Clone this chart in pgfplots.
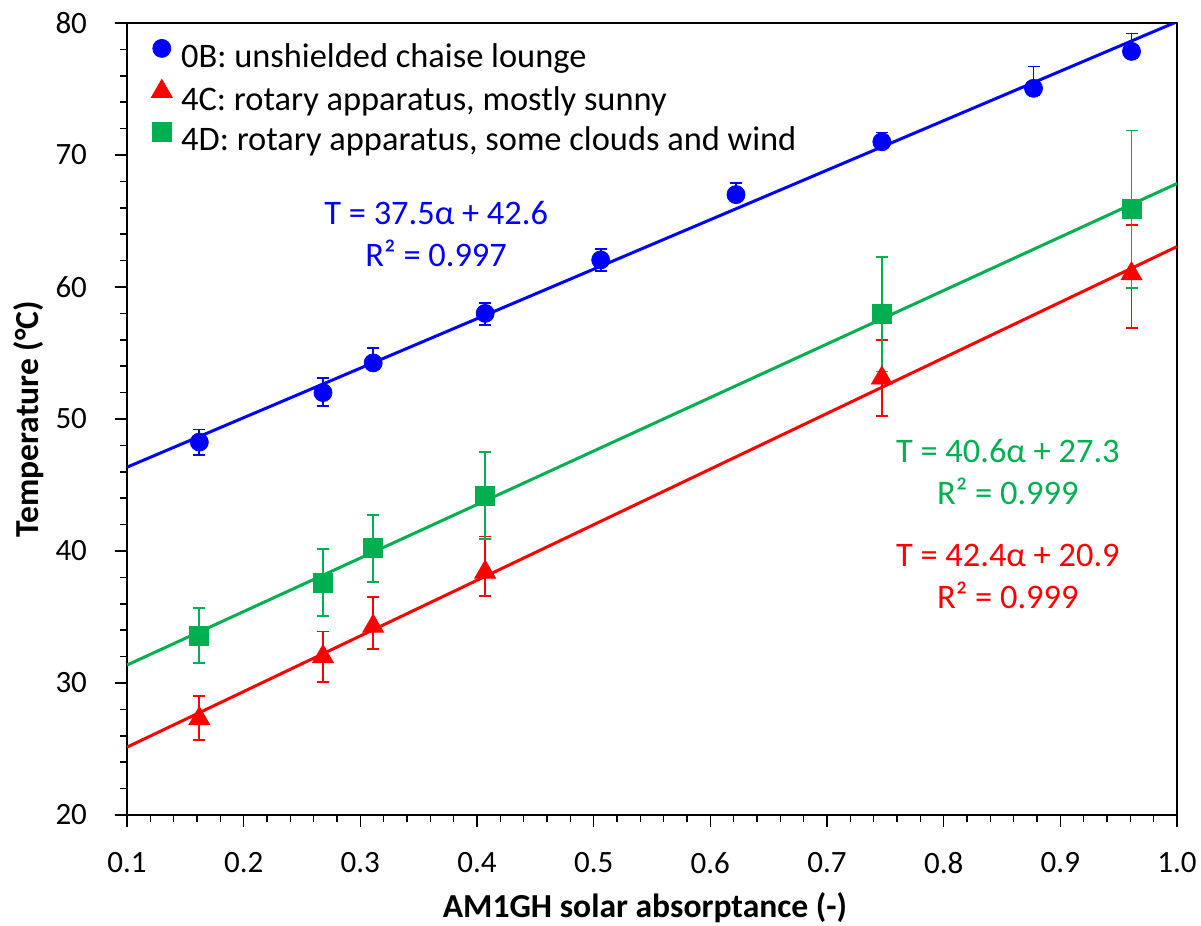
\documentclass[border=0pt]{standalone}
\usepackage{pgfplots}
\pgfplotsset{compat=1.18}
\usepackage{pgfplotstable}
\usepackage{fontspec}
\setmainfont{Carlito}

\definecolor{serB}{RGB}{0,0,255}
\definecolor{serR}{RGB}{255,0,0}
\definecolor{serG}{RGB}{0,176,80}

% 0B: unshielded chaise lounge
\pgfplotstableread{
x      y      ep    em
0.162  48.25  0.95  0.95
0.268  52.00  1.10  1.00
0.311  54.25  1.10  0.50
0.407  58.00  0.80  0.90
0.506  62.05  0.80  0.85
0.622  67.00  0.85  0.50
0.747  71.00  0.70  0.40
0.877  75.05  1.65  0.50
0.961  77.85  1.35  0.50
}\dataOB

% 4C: rotary apparatus, mostly sunny
\pgfplotstableread{
x      y      ep    em
0.162  27.30  1.70  1.60
0.268  32.00  1.90  1.90
0.311  34.30  2.20  1.70
0.407  38.40  2.70  1.80
0.747  53.10  2.90  2.90
0.961  61.00  3.70  4.10
}\dataFourC

% 4D: rotary apparatus, some clouds and wind
\pgfplotstableread{
x      y      err
0.162  33.60  2.10
0.268  37.60  2.55
0.311  40.20  2.55
0.407  44.20  3.30
0.747  57.95  4.35
0.961  65.90  5.95
}\dataFourD

\begin{document}
\begin{tikzpicture}
\begin{axis}[
  name=ax,
  scale only axis,
  width=525pt, height=396pt,
  xmin=0.1, xmax=1.0, ymin=20, ymax=80,
  xtick={0.1,0.2,0.3,0.4,0.5,0.6,0.7,0.8,0.9,1.0},
  ytick={20,30,40,50,60,70,80},
  minor x tick num=4, minor y tick num=4,
  tick pos=left, tick align=outside,
  major tick length=6pt, minor tick length=3.5pt,
  tick style={black, line width=0.8pt},
  axis line style={black, line width=1pt},
  /pgf/number format/assume math mode=true,
  ticklabel style={font=\fontsize{15.5}{18}\selectfont},
  xticklabel style={yshift=-9pt, /pgf/number format/.cd, fixed, fixed zerofill, precision=1},
  yticklabel style={xshift=-10.5pt},
  label style={font=\bfseries\fontsize{16.8}{20}\selectfont},
  xlabel={AM1GH solar absorptance (-)},
  ylabel={Temperature (°C)},
  xlabel style={at={(axis description cs:0.4933,0)}, anchor=base, yshift=-51pt},
  ylabel style={at={(axis description cs:-0.0933,0.5)}, anchor=center},
  legend cell align=left,
  legend image code/.code={\draw[#1] plot coordinates {(0pt,5.5pt)};},
  legend style={
    at={(axis description cs:0,1)}, anchor=north west,
    xshift=12pt, yshift=-8pt,
    draw=none, fill=none, inner sep=0pt,
    row sep=1.5pt, column sep=0pt,
    font=\fontsize{17.2}{20}\selectfont,
    nodes={inner ysep=0pt, inner xsep=4.5pt, text height=12.5pt, text depth=4.5pt},
  },
]

% fitted trendlines
\addplot[serB, line width=1.5pt, forget plot] coordinates {(0.1,46.35) (1.0,80.10)};
\addplot[serG, line width=1.5pt, forget plot] coordinates {(0.1,31.36) (1.0,67.84)};
\addplot[serR, line width=1.5pt, forget plot] coordinates {(0.1,25.14) (1.0,63.06)};

% measured temperatures with error bars
\addplot[only marks, serB, mark=*, mark size=4.5pt,
  mark options={fill=serB, draw=serB},
  error bars/.cd, y dir=both, y explicit,
  error bar style={line width=0.9pt, serB},
  error mark options={rotate=90, mark size=3pt, line width=0.9pt, serB}]
  table[x=x, y=y, y error plus=ep, y error minus=em] {\dataOB};
\addlegendentry{0B: unshielded chaise lounge}

\addplot[only marks, serR, mark=triangle*, mark size=6pt,
  mark options={fill=serR, draw=serR},
  error bars/.cd, y dir=both, y explicit,
  error bar style={line width=0.9pt, serR},
  error mark options={rotate=90, mark size=3pt, line width=0.9pt, serR}]
  table[x=x, y=y, y error plus=ep, y error minus=em] {\dataFourC};
\addlegendentry{4C: rotary apparatus, mostly sunny}

\addplot[only marks, serG, mark=square*, mark size=4.75pt,
  mark options={fill=serG, draw=serG},
  error bars/.cd, y dir=both, y explicit,
  error bar style={line width=0.9pt, serG},
  error mark options={rotate=90, mark size=3pt, line width=0.9pt, serG}]
  table[x=x, y=y, y error=err] {\dataFourD};
\addlegendentry{4D: rotary apparatus, some clouds and wind}

% regression equations
\node[serB, align=center, font=\fontsize{17.2}{21}\selectfont]
  at (axis cs:0.365,64.0) {T = 37.5α + 42.6\\R² = 0.997};
\node[serG, align=center, font=\fontsize{17.2}{21}\selectfont]
  at (axis cs:0.855,46.0) {T = 40.6α + 27.3\\R² = 0.999};
\node[serR, align=center, font=\fontsize{17.2}{21}\selectfont]
  at (axis cs:0.855,38.1) {T = 42.4α + 20.9\\R² = 0.999};
\end{axis}
\pgfresetboundingbox
\path ([shift={(-63.5pt,-55pt)}]ax.south west) rectangle ([shift={(12pt,11.5pt)}]ax.north east);
\end{tikzpicture}
\end{document}
